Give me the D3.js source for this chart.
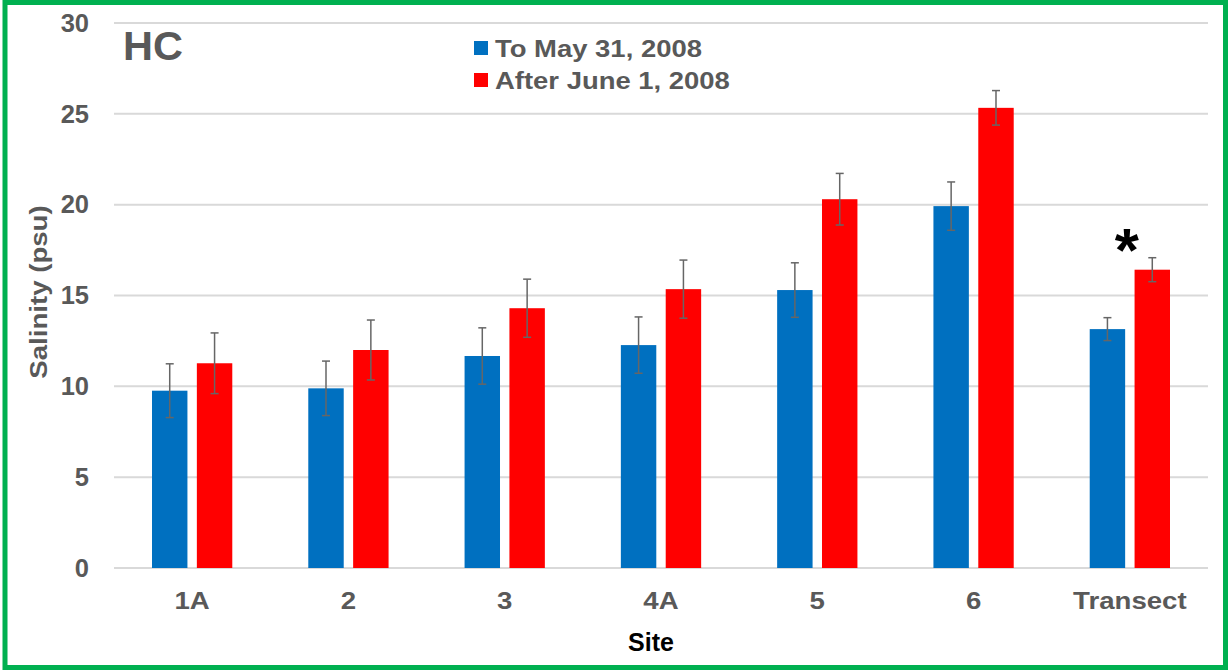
<!DOCTYPE html>
<html><head><meta charset="utf-8">
<script src="https://cdn.jsdelivr.net/npm/d3@7"></script>
<style>body{margin:0;background:#fff;} svg{display:block;font-family:"Liberation Sans",Arial,sans-serif;}</style>
</head><body>
<svg id="c" width="1229" height="670"></svg>
<script>
const sites = ["1A","2","3","4A","5","6","Transect"];
const seriesNames = ["To May 31, 2008","After June 1, 2008"];
const seriesColors = ["#0070C0","#FF0000"];
const beforeMean = [9.76, 9.89, 11.67, 12.27, 15.3, 19.92, 13.15];
const beforeErr  = [1.48, 1.5, 1.55, 1.55, 1.5, 1.33, 0.63];
const afterMean  = [11.27, 12.0, 14.3, 15.35, 20.3, 25.33, 16.42];
const afterErr   = [1.67, 1.65, 1.6, 1.6, 1.42, 0.95, 0.66];
const yTicks = [0,5,10,15,20,25,30];

const svg = d3.select("#c");
const W = 1229, H = 670;
const m = {left:114, right:21, top:23, bottom:102};
const x = d3.scaleBand().domain(sites).range([m.left, W - m.right]).paddingInner(0).paddingOuter(0);
const xs = d3.scaleBand().domain([0,1]).range([38, x.bandwidth()-38]).paddingInner(0.21);
const y = d3.scaleLinear().domain([0,30]).range([H - m.bottom, m.top]);

function stretch(sel, k){
  sel.each(function(){
    const w = this.getComputedTextLength();
    d3.select(this).attr("textLength", w*k).attr("lengthAdjust","spacingAndGlyphs");
  });
}

// border
svg.append("rect").attr("x",5).attr("y",2.5).attr("width",1220.5).attr("height",665)
  .attr("fill","none").attr("stroke","#00B050").attr("stroke-width",5);

// gridlines
svg.append("g").selectAll("line").data(yTicks).join("line")
  .attr("x1", m.left).attr("x2", W - m.right)
  .attr("y1", d=>y(d)).attr("y2", d=>y(d))
  .attr("stroke","#d9d9d9").attr("stroke-width",2);

// y axis labels
const yAxis = d3.axisLeft(y).tickValues(yTicks).tickSize(0).tickPadding(0);
const ya = svg.append("g").attr("transform",`translate(89,0)`).call(yAxis);
ya.select(".domain").remove();
ya.selectAll("text").attr("font-size",25.5).attr("font-weight","bold").attr("fill","#595959")
  .attr("font-family","'Liberation Sans',Arial,sans-serif");

// x axis labels
const xAxis = d3.axisBottom(x).tickSize(0).tickPadding(0);
const xa = svg.append("g").attr("transform",`translate(0,${y(0)+24.5})`).call(xAxis);
xa.select(".domain").remove();
xa.selectAll("text").attr("font-size",23).attr("font-weight","bold").attr("fill","#595959")
  .attr("font-family","'Liberation Sans',Arial,sans-serif");
stretch(xa.selectAll("text"), 1.2);

// bars
const data = [];
sites.forEach((s,i)=>{
  data.push({site:s, k:0, v:beforeMean[i], e:beforeErr[i]});
  data.push({site:s, k:1, v:afterMean[i], e:afterErr[i]});
});
const g = svg.append("g");
g.selectAll("rect").data(data).join("rect")
  .attr("x", d=>x(d.site)+xs(d.k)).attr("width", xs.bandwidth())
  .attr("y", d=>y(d.v)).attr("height", d=>y(0)-y(d.v))
  .attr("fill", d=>seriesColors[d.k]);

// error bars
const eb = svg.append("g").attr("stroke","#666").attr("stroke-width",1.5);
data.forEach(d=>{
  const cx = x(d.site)+xs(d.k)+xs.bandwidth()/2;
  eb.append("line").attr("x1",cx).attr("x2",cx).attr("y1",y(d.v+d.e)).attr("y2",y(d.v-d.e));
  eb.append("line").attr("x1",cx-4).attr("x2",cx+4).attr("y1",y(d.v+d.e)).attr("y2",y(d.v+d.e));
  eb.append("line").attr("x1",cx-4).attr("x2",cx+4).attr("y1",y(d.v-d.e)).attr("y2",y(d.v-d.e));
});

// asterisk
svg.append("text").attr("x", x("Transect")+x.bandwidth()/2-3).attr("y", 271)
  .attr("text-anchor","middle").attr("font-size",62).attr("font-weight","bold").attr("fill","#000").text("*");

// HC
svg.append("text").attr("x",123).attr("y",60).attr("font-size",41.5).attr("font-weight","bold")
  .attr("fill","#595959").text("HC");

// legend
const lg = svg.append("g");
seriesNames.forEach((n,i)=>{
  lg.append("rect").attr("x",474).attr("y",41+i*32).attr("width",14).attr("height",14).attr("fill",seriesColors[i]);
  lg.append("text").attr("x",495).attr("y",57+i*32).attr("font-size",24.5).attr("font-weight","bold")
    .attr("fill","#595959").text(n);
});
stretch(lg.selectAll("text"), 1.12);

// axis titles
svg.append("text").attr("x",651).attr("y",651)
  .attr("text-anchor","middle").attr("font-size",25).attr("font-weight","bold").attr("fill","#000").text("Site");
const yt = svg.append("text").attr("transform",`translate(47,292) rotate(-90)`)
  .attr("text-anchor","middle").attr("font-size",24).attr("font-weight","bold").attr("fill","#595959").text("Salinity (psu)");
stretch(yt, 1.15);
</script>
</body></html>
